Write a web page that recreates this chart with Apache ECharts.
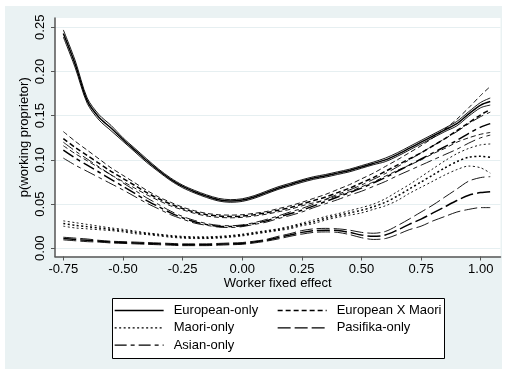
<!DOCTYPE html>
<html>
<head>
<meta charset="utf-8">
<script src="https://cdn.jsdelivr.net/npm/echarts@6/dist/echarts.min.js"></script>
<style>
html,body{margin:0;padding:0;background:#fff;}
#c{width:506px;height:374px;}
</style>
</head>
<body>
<div id="c"></div>
<script>
// x grid (worker fixed effect)
const xs = [-0.75,-0.70,-0.65,-0.60,-0.55,-0.50,-0.45,-0.40,-0.35,-0.30,-0.25,-0.20,-0.15,-0.10,-0.05,0.00,0.05,0.10,0.15,0.20,0.25,0.30,0.35,0.40,0.45,0.50,0.55,0.60,0.65,0.70,0.75,0.80,0.85,0.90,0.95,1.00,1.04];

// European-only
const euEst = [0.243,0.208,0.167,0.148,0.136,0.123,0.111,0.099,0.088,0.078,0.070,0.064,0.059,0.055,0.0535,0.0545,0.058,0.063,0.068,0.072,0.076,0.0795,0.082,0.085,0.088,0.092,0.096,0.100,0.106,0.113,0.120,0.127,0.134,0.141,0.152,0.162,0.166];
const euHi = [0.247,0.212,0.170,0.151,0.139,0.125,0.113,0.101,0.0895,0.0795,0.0715,0.0655,0.0605,0.0565,0.055,0.056,0.0595,0.0645,0.0695,0.0735,0.0775,0.081,0.0835,0.0865,0.0895,0.0935,0.0975,0.102,0.108,0.115,0.122,0.129,0.136,0.1435,0.1545,0.165,0.170];
const euLo = [0.239,0.204,0.164,0.145,0.133,0.121,0.109,0.097,0.0865,0.0765,0.0685,0.0625,0.0575,0.0535,0.052,0.053,0.0565,0.0615,0.0665,0.0705,0.0745,0.078,0.0805,0.0835,0.0865,0.0905,0.0945,0.098,0.104,0.111,0.118,0.125,0.132,0.1385,0.1495,0.159,0.162];

// European X Maori
const emEst = [0.124,0.114,0.105,0.096,0.087,0.079,0.071,0.063,0.056,0.050,0.045,0.041,0.038,0.0365,0.036,0.0365,0.038,0.040,0.043,0.046,0.050,0.054,0.058,0.063,0.068,0.074,0.080,0.087,0.094,0.101,0.108,0.116,0.124,0.133,0.142,0.151,0.157];
const emHi = [0.132,0.121,0.111,0.101,0.091,0.0825,0.074,0.0655,0.058,0.052,0.0465,0.0425,0.0395,0.038,0.0375,0.038,0.0395,0.0415,0.0448,0.048,0.052,0.0565,0.061,0.0665,0.072,0.0785,0.085,0.0925,0.100,0.108,0.116,0.125,0.135,0.146,0.159,0.173,0.183];
const emLo = [0.116,0.107,0.099,0.091,0.083,0.0755,0.068,0.0605,0.054,0.048,0.0435,0.0395,0.0365,0.035,0.0345,0.035,0.0365,0.0385,0.0412,0.044,0.048,0.0515,0.055,0.0595,0.064,0.0695,0.075,0.0815,0.088,0.094,0.100,0.107,0.113,0.120,0.125,0.129,0.131];

// Maori-only
const moEst = [0.028,0.026,0.0245,0.023,0.0215,0.020,0.018,0.0165,0.015,0.0135,0.0125,0.012,0.012,0.0125,0.0135,0.015,0.017,0.019,0.021,0.0235,0.027,0.030,0.034,0.037,0.040,0.043,0.047,0.052,0.059,0.067,0.075,0.083,0.091,0.098,0.103,0.104,0.103];
const moHi = [0.031,0.029,0.027,0.025,0.023,0.0215,0.0195,0.0175,0.016,0.0145,0.0135,0.013,0.013,0.0135,0.0145,0.016,0.018,0.020,0.022,0.025,0.0285,0.032,0.036,0.039,0.0425,0.046,0.050,0.056,0.064,0.072,0.081,0.090,0.099,0.107,0.113,0.117,0.118];
const moLo = [0.025,0.023,0.022,0.021,0.020,0.0185,0.0165,0.0155,0.014,0.0125,0.0115,0.011,0.011,0.0115,0.0125,0.014,0.016,0.018,0.020,0.022,0.0255,0.028,0.032,0.035,0.0375,0.040,0.044,0.048,0.054,0.062,0.069,0.076,0.083,0.089,0.093,0.091,0.085];

// Pasifika-only
const paEst = [0.011,0.010,0.009,0.008,0.007,0.0065,0.006,0.0055,0.005,0.0045,0.004,0.004,0.004,0.0045,0.005,0.0055,0.007,0.009,0.012,0.015,0.018,0.020,0.0205,0.020,0.018,0.015,0.0135,0.015,0.0205,0.027,0.033,0.040,0.047,0.054,0.060,0.063,0.064];
const paHi = [0.0125,0.0115,0.0105,0.009,0.008,0.0075,0.007,0.0065,0.006,0.0055,0.005,0.005,0.005,0.0055,0.006,0.0065,0.008,0.010,0.0135,0.0165,0.020,0.022,0.0225,0.022,0.0205,0.018,0.017,0.019,0.0255,0.033,0.041,0.049,0.058,0.067,0.076,0.080,0.081];
const paLo = [0.0095,0.0085,0.0075,0.007,0.006,0.0055,0.005,0.0045,0.004,0.0035,0.003,0.003,0.003,0.0035,0.004,0.0045,0.006,0.008,0.0105,0.0135,0.016,0.018,0.0185,0.018,0.0155,0.012,0.010,0.011,0.0155,0.021,0.025,0.031,0.036,0.041,0.044,0.046,0.046];

// Asian-only
const asEst = [0.111,0.102,0.094,0.086,0.078,0.070,0.062,0.054,0.047,0.040,0.0345,0.030,0.027,0.025,0.0245,0.0255,0.028,0.031,0.035,0.039,0.043,0.048,0.053,0.058,0.063,0.068,0.074,0.080,0.087,0.094,0.101,0.108,0.115,0.122,0.130,0.137,0.141];
const asHi = [0.120,0.110,0.101,0.092,0.083,0.074,0.0655,0.057,0.0495,0.042,0.036,0.0315,0.028,0.026,0.0255,0.0265,0.029,0.0325,0.0365,0.041,0.045,0.050,0.0555,0.061,0.066,0.0715,0.078,0.0845,0.092,0.100,0.108,0.116,0.124,0.132,0.141,0.149,0.154];
const asLo = [0.102,0.094,0.087,0.080,0.073,0.066,0.0585,0.051,0.0445,0.038,0.033,0.0285,0.026,0.024,0.0235,0.0245,0.027,0.0295,0.0335,0.037,0.041,0.046,0.0505,0.055,0.060,0.0645,0.070,0.0755,0.082,0.088,0.094,0.100,0.106,0.112,0.119,0.125,0.128];

const xTicks = [-0.75,-0.50,-0.25,0.00,0.25,0.50,0.75,1.00];
const yTicks = [0.00,0.05,0.10,0.15,0.20,0.25];

const groups = [
  {name:'European-only', est:euEst, hi:euHi, lo:euLo, dash:'solid'},
  {name:'European X Maori', est:emEst, hi:emHi, lo:emLo, dash:[5,3]},
  {name:'Maori-only', est:moEst, hi:moHi, lo:moLo, dash:[2,2.5]},
  {name:'Pasifika-only', est:paEst, hi:paHi, lo:paLo, dash:[13,4]},
  {name:'Asian-only', est:asEst, hi:asHi, lo:asLo, dash:[12,4,4,4]}
];

const FONT = 'Liberation Sans, Arial, Helvetica, sans-serif';
const FS = 13;
const series = [];
groups.forEach(g => {
  const mk = (nm, arr, w) => ({
    name: nm, type: 'line', symbol: 'none', showSymbol: false, smooth: 0.3,
    data: xs.map((x, i) => [x, arr[i]]),
    lineStyle: {color: '#000', width: w, type: g.dash},
    itemStyle: {color: '#000'},
    emphasis: {disabled: true},
    silent: true, z: 3
  });
  series.push(mk(g.name + ' upper', g.hi, 0.9));
  series.push(mk(g.name + ' lower', g.lo, 0.9));
  series.push(mk(g.name, g.est, 1.5));
});

const legendCommon = {
  orient: 'vertical', top: 304, padding: 0, itemGap: 4.3, itemWidth: 49, itemHeight: 14,
  selectedMode: false, z: 5,
  itemStyle: {color: 'rgba(0,0,0,0)', borderWidth: 0, opacity: 0},
  lineStyle: {width: 1.3},
  textStyle: {fontSize: FS, color: '#000', fontFamily: FONT, padding: [0,0,0,5]}
};

const chart = echarts.init(document.getElementById('c'), null, {renderer: 'canvas'});
chart.setOption({
  animation: false,
  backgroundColor: '#fff',
  textStyle: {fontFamily: FONT},
  graphic: [
    {type: 'rect', z: -100, silent: true, shape: {x: 5, y: 6, width: 497, height: 363}, style: {fill: '#eaf2f3'}},
    {type: 'rect', z: 3, silent: true, shape: {x: 112.5, y: 298.5, width: 332, height: 60}, style: {fill: '#fff', stroke: '#000', lineWidth: 1}}
  ],
  grid: {left: 55, top: 18, width: 445.5, height: 238.5, show: true, backgroundColor: '#fff', borderWidth: 0, outerBoundsMode: 'none', containLabel: false},
  xAxis: {
    type: 'value', min: -0.785, max: 1.083,
    name: 'Worker fixed effect', nameLocation: 'middle', nameGap: 20, nameMoveOverlap: false,
    nameTextStyle: {fontSize: FS, color: '#000', fontFamily: FONT},
    axisLine: {show: true, onZero: false, lineStyle: {color: '#555', width: 1.5}},
    axisTick: {show: true, length: 4, customValues: xTicks, lineStyle: {color: '#555', width: 1}},
    axisLabel: {customValues: xTicks, fontSize: FS, color: '#000', margin: 6, fontFamily: FONT, formatter: v => v.toFixed(2)},
    splitLine: {show: false}
  },
  yAxis: {
    type: 'value', min: -0.0093, max: 0.2605,
    name: 'p(working proprietor)', nameLocation: 'middle', nameGap: 24, nameRotate: 90, nameMoveOverlap: false,
    nameTextStyle: {fontSize: FS, color: '#000', fontFamily: FONT},
    axisLine: {show: true, onZero: false, lineStyle: {color: '#555', width: 1.5}},
    axisTick: {show: true, length: 4, customValues: yTicks, lineStyle: {color: '#555', width: 1}},
    axisLabel: {customValues: yTicks, rotate: 90, fontSize: FS, color: '#000', margin: 8, fontFamily: FONT, formatter: v => v.toFixed(2)},
    splitLine: {show: true, lineStyle: {color: '#e6eff1', width: 1}}
  },
  legend: [
    Object.assign({}, legendCommon, {data: ['European-only', 'Maori-only', 'Asian-only'], left: 114}),
    Object.assign({}, legendCommon, {data: ['European X Maori', 'Pasifika-only'], left: 277})
  ],
  series: series
});
</script>
</body>
</html>
